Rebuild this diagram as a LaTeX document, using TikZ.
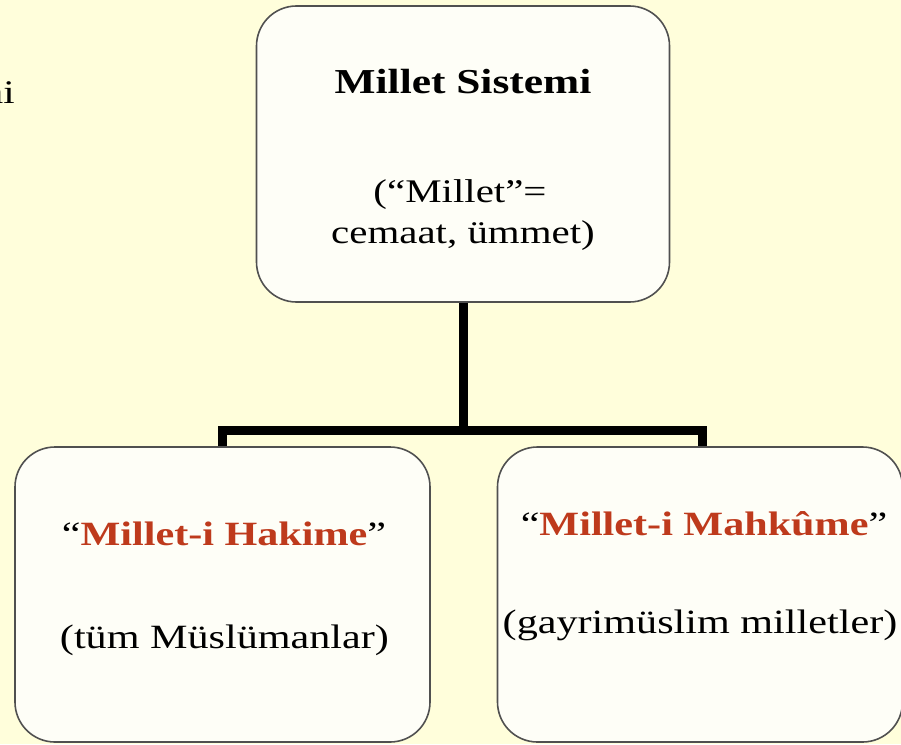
\documentclass[tikz,border=0pt]{standalone}
\usepackage{fontspec}
\setmainfont{Liberation Serif}[FakeStretch=1.24]
\usetikzlibrary{calc}

\definecolor{slidebg}{RGB}{255,254,219}
\definecolor{boxfill}{RGB}{254,254,247}
\definecolor{boxline}{RGB}{80,80,80}
\definecolor{milletred}{RGB}{190,58,28}

\tikzset{
    box/.style={draw=boxline, line width=1.6pt, fill=boxfill, rounded corners=40pt,
        inner sep=0pt},
    conn/.style={line width=9pt, line join=miter, draw=black},
    txt/.style={anchor=base, inner sep=0pt, font=\fontsize{34}{40}\selectfont},
    toptxt/.style={txt, font=\fontsize{33}{40}\selectfont}
}
\newcommand{\red}[1]{\textcolor{milletred}{\textbf{#1}}}

\begin{document}
\begin{tikzpicture}[x=1pt, y=-1pt]
        \clip (0,0) rectangle (901,744);
        \fill[slidebg] (0,0) rectangle (901,744);
        \node[toptxt, anchor=base east] (kenar) at (15,103) {ni};
        % kutular
        \node[box, minimum width=413pt, minimum height=296pt] (sistem) at (463,154) {};
        \node[box, minimum width=415pt, minimum height=295pt] (hakime) at (222.5,594.5) {};
        \node[box, minimum width=405pt, minimum height=295pt] (mahkume) at (700,594.5) {};
        % baglantilar
        \coordinate (bar) at (463,430);
        \draw[conn] (sistem.south) -- (bar);
        \draw[conn] (hakime.north) |- (bar) -| ([xshift=2pt]mahkume.north);
        % metinler
        \node[toptxt, font=\fontsize{35}{40}\selectfont\bfseries] (baslik) at (463,93) {Millet Sistemi};
        \node[toptxt] (tanim) at (460,202) {(“Millet”=};
        \node[toptxt] (anlam) at (463,243) {cemaat, ümmet)};
        \node[txt] (hakimeAd) at (224,545) {“\red{Millet-i Hakime}”};
        \node[txt] (hakimeAlt) at (224.5,648) {(tüm Müslümanlar)};
        \node[txt] (mahkumeAd) at (704,535) {“\red{Millet-i Mahkûme}”};
        \node[txt] (mahkumeAlt) at (700,633) {(gayrimüslim milletler)};
    \end{tikzpicture}
\end{document}
